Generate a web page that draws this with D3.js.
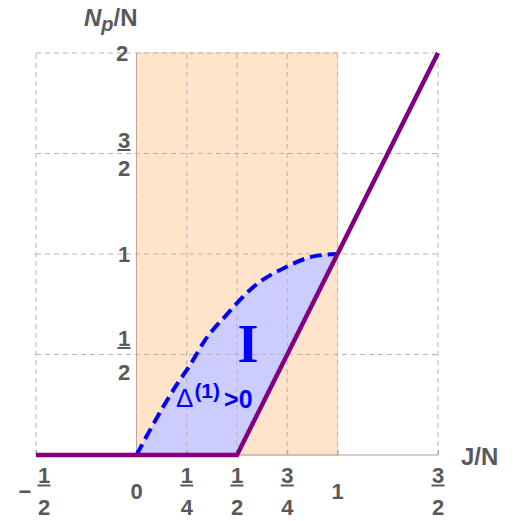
<!DOCTYPE html>
<html>
<head>
<meta charset="utf-8">
<script src="https://cdn.jsdelivr.net/npm/d3@7"></script>
<style>
  body { margin: 0; background: #fff; }
  text { font-family: "Liberation Sans", Arial, sans-serif; }
</style>
</head>
<body>
<script>
// tick values and labels
let xTicks = [-0.5, 0, 0.25, 0.5, 0.75, 1, 1.5];
let xTickLabels = ['−1/2', '0', '1/4', '1/2', '3/4', '1', '3/2'];
let yTicks = [0.5, 1, 1.5, 2];
let yTickLabels = ['1/2', '1', '3/2', '2'];
let xGrid = [-0.5, 0, 0.25, 0.5, 0.75, 1, 1.5];
let yGrid = [0.5, 1, 1.5, 2];

// regions
let orangeBox = [[0, 0], [1, 2]]; // x from 0 to 1, y 0 to 2
// dashed boundary Delta(1) = 0
let curve = [[0, 0], [0.065, 0.12], [0.13, 0.235], [0.2, 0.35], [0.265, 0.445], [0.34, 0.57],
  [0.45, 0.70], [0.58, 0.835], [0.75, 0.938], [0.88, 0.988], [1, 1]];
// purple boundary
let purple = [[-0.5, 0], [0.5, 0], [1.5, 2]];
// lower edge of region I (back from the curve end)
let regionEdge = [[1, 1], [0.5, 0], [0, 0]];

let width = 521, height = 521;

let svg = d3.select('body').append('svg')
    .attr('width', width)
    .attr('height', height);

let x = d3.scaleLinear().domain([-0.5, 1.5]).range([36, 438]);
let y = d3.scaleLinear().domain([0, 2]).range([455, 53]);

let line = d3.line()
  .x(function(d){ return x(d[0]); })
  .y(function(d){ return y(d[1]); });

let smooth = d3.line()
  .x(function(d){ return x(d[0]); })
  .y(function(d){ return y(d[1]); })
  .curve(d3.curveMonotoneX);

// orange region
svg.append('rect')
  .attr('x', x(orangeBox[0][0]))
  .attr('y', y(orangeBox[1][1]))
  .attr('width', x(orangeBox[1][0]) - x(orangeBox[0][0]))
  .attr('height', y(orangeBox[0][1]) - y(orangeBox[1][1]))
  .style('fill', '#ffe4c9')
  .style('stroke', '#f0c9a4')
  .style('stroke-width', 0.8);

// blue region I
svg.append('path')
  .attr('d', smooth(curve) + line(regionEdge).replace('M', 'L') + 'Z')
  .style('fill', '#ccccff')
  .style('stroke', 'none');

// grid
svg.selectAll('.vgrid').data(xGrid).enter().append('line')
  .attr('class', 'vgrid')
  .attr('x1', function(d){ return x(d); }).attr('x2', function(d){ return x(d); })
  .attr('y1', y(0)).attr('y2', y(2))
  .style('stroke', '#b4b4b4').style('stroke-width', 1).style('stroke-dasharray', '5,4');

svg.selectAll('.hgrid').data(yGrid).enter().append('line')
  .attr('class', 'hgrid')
  .attr('x1', x(-0.5)).attr('x2', x(1.5))
  .attr('y1', function(d){ return y(d); }).attr('y2', function(d){ return y(d); })
  .style('stroke', '#b4b4b4').style('stroke-width', 1).style('stroke-dasharray', '5,4');

// axes
let xAxis = d3.axisTop(x).tickValues(xTicks).tickSize(5).tickFormat('');
svg.append('g')
  .attr('class', 'x axis')
  .attr('transform', 'translate(0,' + y(0) + ')')
  .call(xAxis)
  .call(function(g){
    g.select('.domain').attr('d', 'M' + x(-0.5) + ',0H' + x(1.5)).style('stroke', '#a0a0a0');
    g.selectAll('.tick line').style('stroke', '#a0a0a0');
  });

svg.append('line')
  .attr('x1', x(0)).attr('x2', x(0))
  .attr('y1', y(0)).attr('y2', y(2))
  .style('stroke', '#b8a090').style('stroke-width', 0.8);

// fraction helper
function label(g, txt, cx, cy, gap) {
  let neg = txt[0] === '−';
  if (neg) txt = txt.slice(1);
  let parts = txt.split('/');
  let t = g.append('g').attr('transform', 'translate(' + cx + ',' + cy + ')')
    .style('fill', '#595959').style('font-weight', 'bold').style('font-size', '22px');
  if (parts.length === 1) {
    t.append('text').attr('text-anchor', 'middle').attr('y', 8).text(parts[0]);
    return;
  }
  t.append('text').attr('text-anchor', 'middle').attr('y', -gap).text(parts[0]);
  t.append('line').attr('x1', -6.5).attr('x2', 6.5).attr('y1', -gap + 2.5).attr('y2', -gap + 2.5)
    .style('stroke', '#595959').style('stroke-width', 2);
  t.append('text').attr('text-anchor', 'middle').attr('y', gap + 16).text(parts[1]);
  if (neg) {
    t.append('text').attr('text-anchor', 'middle').attr('x', -19).attr('y', 8).text('−');
  }
}

let labels = svg.append('g');
xTicks.forEach(function(v, i){
  let cx = x(v) + (xTickLabels[i][0] === '−' ? 8 : 0);
  label(labels, xTickLabels[i], cx, 491, 8);
});
yTicks.forEach(function(v, i){
  let cx = yTickLabels[i] === '2' ? 122 : 124;
  label(labels, yTickLabels[i], cx, y(v), yTickLabels[i] === '3/2' ? 6 : 9);
});

// axis titles
svg.append('text')
  .attr('x', 84).attr('y', 26)
  .style('fill', '#595959').style('font-weight', 'bold').style('font-size', '24px')
  .html('<tspan font-style="italic">N</tspan><tspan font-style="italic" font-size="20px" dy="5">p</tspan><tspan dy="-5">/N</tspan>');

svg.append('text')
  .attr('x', 461).attr('y', 465)
  .style('fill', '#595959').style('font-weight', 'bold').style('font-size', '24px')
  .text('J/N');

// dashed boundary
svg.append('path')
  .attr('d', smooth(curve))
  .style('fill', 'none')
  .style('stroke', '#0000ff')
  .style('stroke-width', 4)
  .style('stroke-dasharray', '12,6');

// purple boundary
svg.append('path')
  .attr('d', line(purple))
  .style('fill', 'none')
  .style('stroke', '#800080')
  .style('stroke-width', 4.5);

// region labels
svg.append('text')
  .attr('x', 248).attr('y', 362)
  .attr('text-anchor', 'middle')
  .style('font-family', '"Liberation Serif", serif')
  .style('font-weight', 'bold').style('font-size', '54px')
  .style('fill', '#0000ff')
  .text('I');

let d = svg.append('text')
  .attr('x', 176).attr('y', 407)
  .style('fill', '#0000ff').style('font-size', '26px');
d.append('tspan').text('Δ');
d.append('tspan').attr('dy', -9).attr('dx', 1).style('font-size', '21px').style('font-weight', 'bold').text('(1)');
d.append('tspan').attr('dy', 10).attr('dx', 4).style('font-size', '25px').style('font-weight', 'bold').text('>0');
</script>
</body>
</html>
